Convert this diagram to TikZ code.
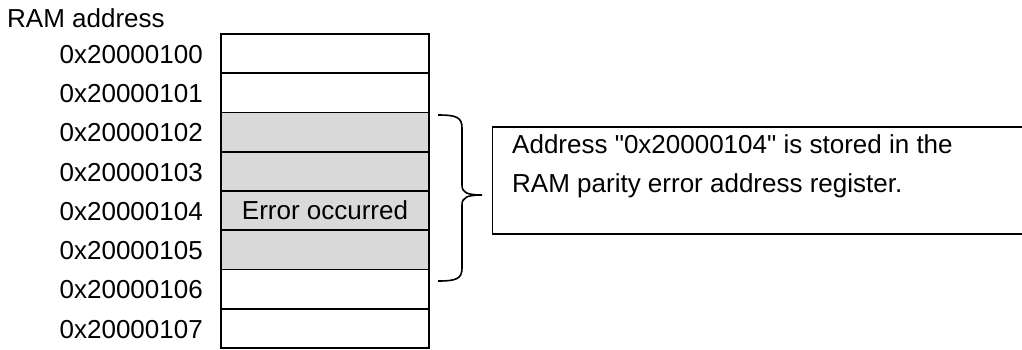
\documentclass[tikz,border=0pt]{standalone}
\usepackage{fontspec}
\setmainfont{Liberation Sans}[Ligatures=TeXOff]
\definecolor{cellgray}{HTML}{D9D9D9}
\tikzset{
  cell/.style={draw=black, line width=1.8pt, minimum width=208pt, minimum height=39.25pt, inner sep=0pt, anchor=center},
  errcell/.style={cell, fill=cellgray},
  addr/.style={anchor=east, inner sep=0pt},
  lbl/.style={anchor=base west, inner sep=0pt},
  notebox/.style={draw=black, line width=1.2pt, minimum width=560pt, minimum height=107pt, inner sep=0pt, anchor=west},
  bracestyle/.style={draw=black, line width=1.6pt}
}
\begin{document}
\begin{tikzpicture}[x=1pt, y=-1pt, font=\fontsize{26}{30}\selectfont]
\useasboundingbox (0,0) rectangle (1022,349);
\clip (0,0) rectangle (1022,349);
\node[lbl] (title) at (7,27) {RAM address};
\node[cell]    (c0) at (325,53.6)  {};
\node[cell]    (c1) at (325,92.9)  {};
\node[errcell] (c2) at (325,132.1) {};
\node[errcell] (c3) at (325,171.4) {};
\node[errcell] (c4) at (325,210.6) {Error occurred};
\node[errcell] (c5) at (325,249.9) {};
\node[cell]    (c6) at (325,289.1) {};
\node[cell]    (c7) at (325,328.4) {};
\node[addr] (a0) at (203,54.5)  {0x20000100};
\node[addr] (a1) at (203,93.8)  {0x20000101};
\node[addr] (a2) at (203,133.0) {0x20000102};
\node[addr] (a3) at (203,172.3) {0x20000103};
\node[addr] (a4) at (203,211.5) {0x20000104};
\node[addr] (a5) at (203,250.8) {0x20000105};
\node[addr] (a6) at (203,290.0) {0x20000106};
\node[addr] (a7) at (203,329.3) {0x20000107};
\node[notebox] (note) at (492,180.5) {};
\node[lbl] (noteA) at (512,153) {Address "0x20000104" is stored in the};
\node[lbl] (noteB) at (512,192.5) {RAM parity error address register.};
\coordinate (btop) at (438,115);
\coordinate (bbot) at (438,281);
\coordinate (btip) at (482,195);
\draw[bracestyle] (btop) .. controls (456,115) and (462,117) .. (462,128)
  -- (462,185) .. controls (462,192) and (466,195) .. (btip)
  .. controls (466,195) and (462,198) .. (462,205)
  -- (462,268) .. controls (462,279) and (456,281) .. (bbot);
\end{tikzpicture}
\end{document}
